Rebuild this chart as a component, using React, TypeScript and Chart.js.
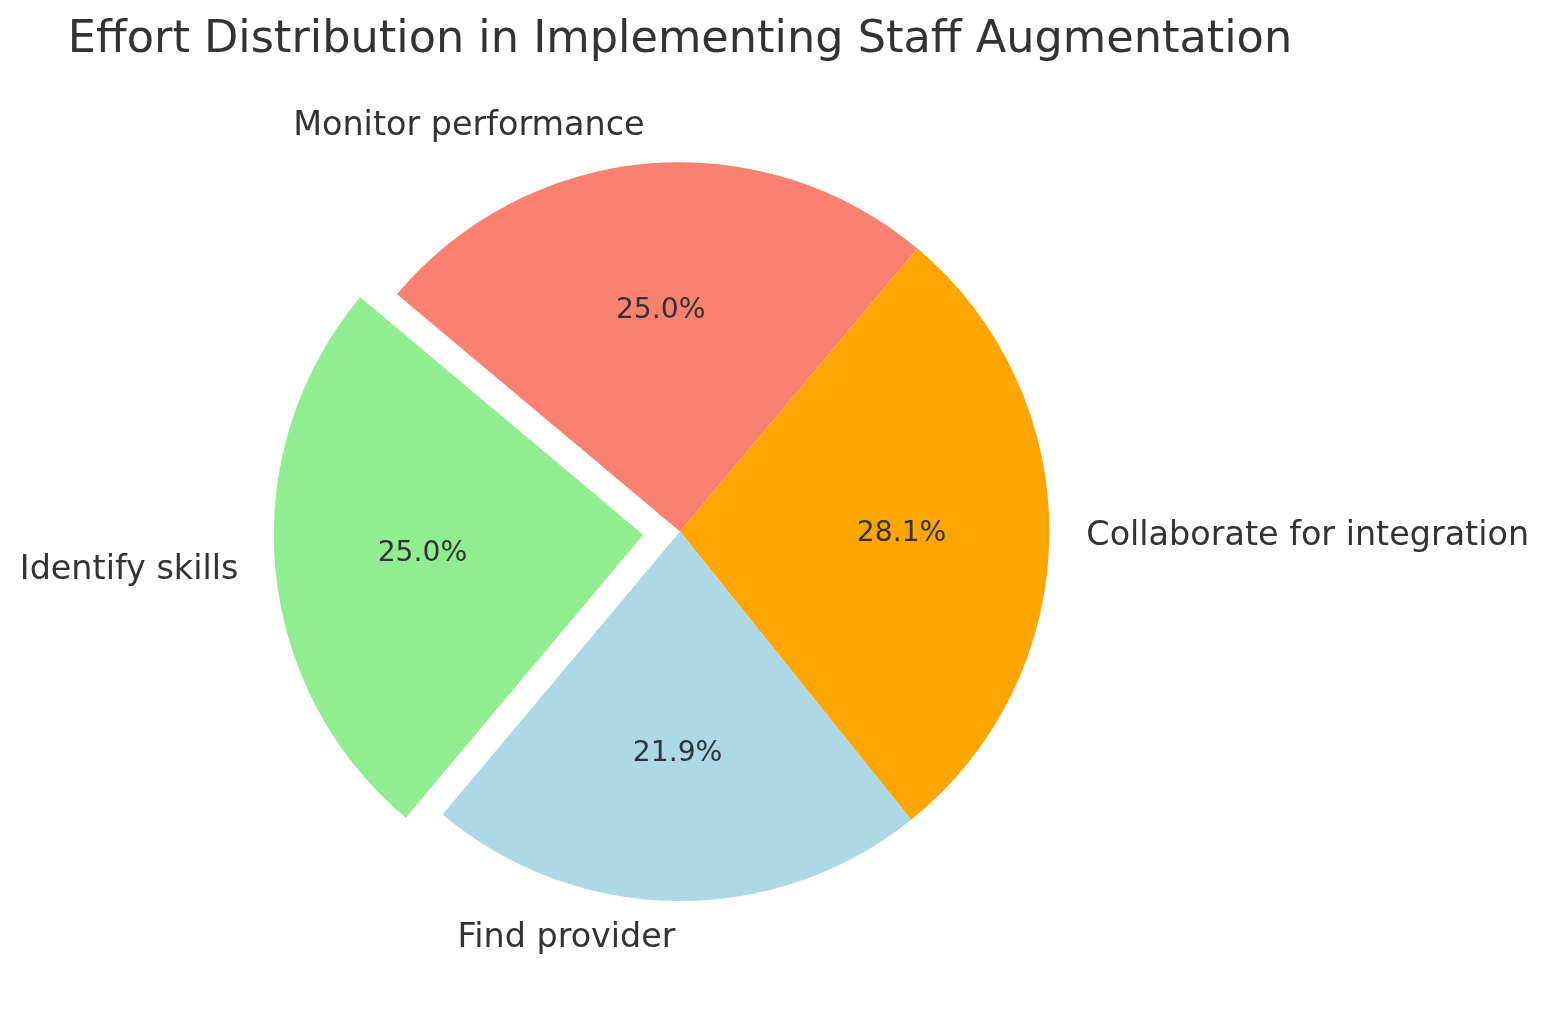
import React, { useEffect, useRef } from "react";
import { Chart, registerables } from "chart.js";

Chart.register(...registerables);

const TITLE = "Effort Distribution in Implementing Staff Augmentation";
const categories = ["Monitor performance", "Collaborate for integration", "Find provider", "Identify skills"];
const values = [8, 9, 7, 8];
const colors = ["#FA8072", "#FFA500", "#ADD8E6", "#90EE90"];
const explode = [0, 0, 0, 0.1];

const TEXT_COLOR = "#333333";
const FONT = "'DejaVu Sans', sans-serif";
const RADIUS = 369.4;

const labelPlugin = {
  id: "pieLabels",
  afterDatasetsDraw(chart: any) {
    const ctx = chart.ctx;
    const meta = chart.getDatasetMeta(0);
    const total = values.reduce((a, b) => a + b, 0);
    ctx.save();
    ctx.fillStyle = TEXT_COLOR;
    meta.data.forEach((arc: any, i: number) => {
      const p = arc.getProps(["x", "y", "startAngle", "endAngle", "outerRadius"], true);
      const a = (p.startAngle + p.endAngle) / 2;
      const off = explode[i] * p.outerRadius;
      const cx = p.x + Math.cos(a) * off;
      const cy = p.y + Math.sin(a) * off;
      // category label
      const lx = cx + Math.cos(a) * p.outerRadius * 1.1;
      const ly = cy + Math.sin(a) * p.outerRadius * 1.1;
      ctx.font = `33.4px ${FONT}`;
      ctx.textBaseline = "middle";
      ctx.textAlign = Math.cos(a) < 0 ? "right" : "left";
      ctx.fillText(categories[i], lx, ly);
      // percentage
      const px = cx + Math.cos(a) * p.outerRadius * 0.6;
      const py = cy + Math.sin(a) * p.outerRadius * 0.6;
      ctx.font = `28.2px ${FONT}`;
      ctx.textAlign = "center";
      ctx.fillText(((values[i] / total) * 100).toFixed(1) + "%", px, py);
    });
    // title
    const cxTitle = (chart.chartArea.left + chart.chartArea.right) / 2;
    ctx.font = `44.6px ${FONT}`;
    ctx.textAlign = "center";
    ctx.textBaseline = "middle";
    ctx.fillText(TITLE, cxTitle, 40);
    ctx.restore();
  },
};

export default function App() {
  const ref = useRef<HTMLCanvasElement>(null);
  useEffect(() => {
    if (!ref.current) return;
    const chart = new Chart(ref.current, {
      type: "pie",
      data: {
        labels: categories,
        datasets: [
          {
            data: values,
            backgroundColor: colors,
            borderWidth: 0,
            // Chart.js arcs translate by offset / 4
            offset: explode.map((e) => e * RADIUS * 4),
            radius: RADIUS,
          } as any,
        ],
      },
      options: {
        animation: false,
        responsive: false,
        devicePixelRatio: 1,
        rotation: -50,
        events: [],
        layout: { padding: { left: 180, right: 368, top: 81.6, bottom: 32.4 } },
        plugins: {
          legend: { display: false },
          tooltip: { enabled: false },
          title: { display: false },
        },
      },
      plugins: [labelPlugin],
    });
    return () => chart.destroy();
  }, []);
  return (
    <div style={{ position: "absolute", left: 0, top: 0, width: 1548, height: 1014, background: "#fff" }}>
      <canvas ref={ref} width={1548} height={1014} style={{ width: 1548, height: 1014 }} />
    </div>
  );
}
